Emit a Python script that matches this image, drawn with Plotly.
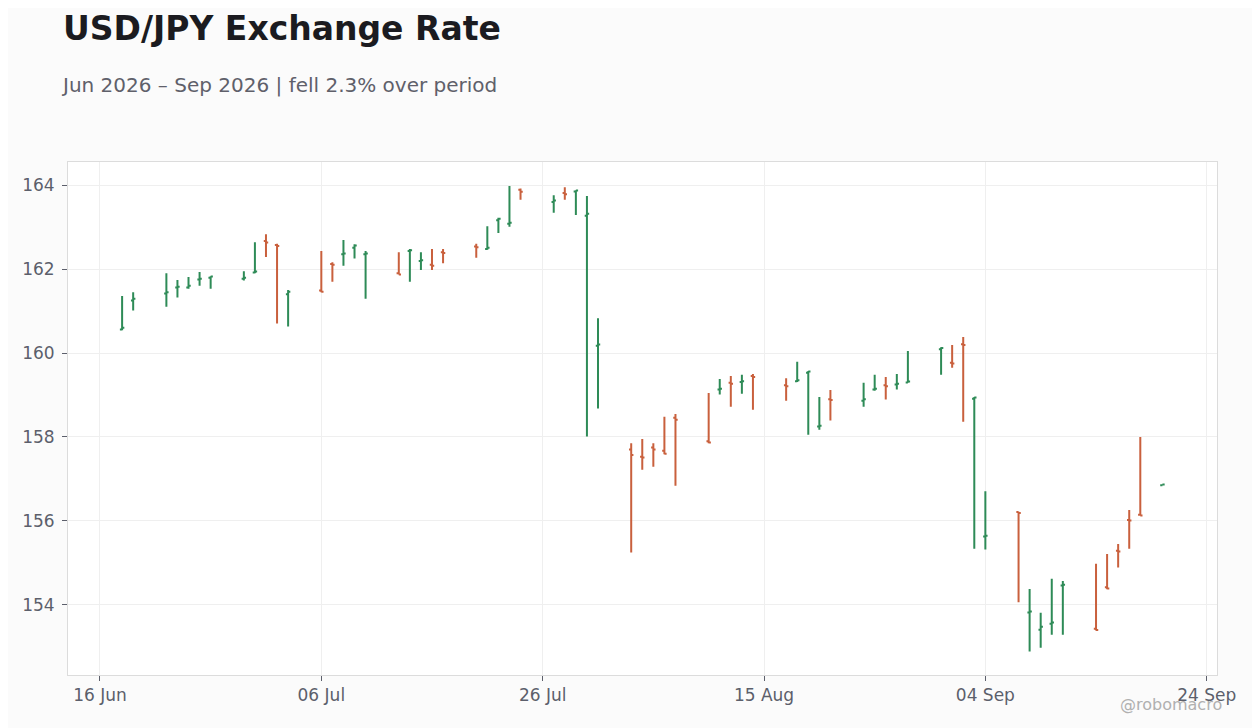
import plotly.graph_objects as go

dates = [
    "2026-06-18", "2026-06-19",
    "2026-06-22", "2026-06-23", "2026-06-24", "2026-06-25", "2026-06-26",
    "2026-06-29", "2026-06-30", "2026-07-01", "2026-07-02", "2026-07-03",
    "2026-07-06", "2026-07-07", "2026-07-08", "2026-07-09", "2026-07-10",
    "2026-07-13", "2026-07-14", "2026-07-15", "2026-07-16", "2026-07-17",
    "2026-07-20", "2026-07-21", "2026-07-22", "2026-07-23", "2026-07-24",
    "2026-07-27", "2026-07-28", "2026-07-29", "2026-07-30", "2026-07-31",
    "2026-08-03", "2026-08-04", "2026-08-05", "2026-08-06", "2026-08-07",
    "2026-08-10", "2026-08-11", "2026-08-12", "2026-08-13", "2026-08-14",
    "2026-08-17", "2026-08-18", "2026-08-19", "2026-08-20", "2026-08-21",
    "2026-08-24", "2026-08-25", "2026-08-26", "2026-08-27", "2026-08-28",
    "2026-08-31", "2026-09-01", "2026-09-02", "2026-09-03", "2026-09-04",
    "2026-09-07", "2026-09-08", "2026-09-09", "2026-09-10", "2026-09-11",
    "2026-09-14", "2026-09-15", "2026-09-16", "2026-09-17", "2026-09-18",
    "2026-09-20",
]

open_ = [
    160.56, 161.25,
    161.42, 161.56, 161.56, 161.75, 161.79,
    161.77, 161.92, 162.67, 162.57, 161.40,
    161.49, 162.12, 162.35, 162.51, 162.35,
    161.90, 162.43, 162.19, 162.10, 162.40,
    162.54, 162.48, 163.16, 163.08, 163.89,
    163.60, 163.81, 163.85, 163.27, 160.17,
    157.70, 157.53, 157.75, 157.67, 158.46,
    157.90, 159.13, 159.29, 159.31, 159.45,
    159.23, 159.33, 159.53, 158.25, 158.90,
    158.86, 159.13, 159.23, 159.25, 159.30,
    160.09, 159.77, 160.21, 158.91, 155.63,
    156.21, 153.82, 153.41, 153.55, 154.46,
    153.43, 154.42, 155.29, 156.02, 156.15,
    156.85,
]

high = [
    161.36, 161.45,
    161.90, 161.74, 161.81, 161.93, 161.83,
    161.95, 162.64, 162.83, 162.60, 161.50,
    162.43, 162.16, 162.69, 162.59, 162.43,
    162.40, 162.48, 162.40, 162.48, 162.48,
    162.60, 163.02, 163.22, 163.98, 163.92,
    163.76, 163.95, 163.88, 163.74, 160.83,
    157.85, 157.95, 157.85, 158.48, 158.55,
    159.05, 159.38, 159.45, 159.48, 159.50,
    159.40, 159.79, 159.57, 158.95, 159.12,
    159.29, 159.48, 159.43, 159.50, 160.05,
    160.14, 160.19, 160.38, 158.95, 156.71,
    156.22, 154.38, 153.81, 154.62, 154.57,
    154.98, 155.21, 155.45, 156.26, 158.00,
    156.87,
]

low = [
    160.54, 161.01,
    161.10, 161.32, 161.53, 161.60, 161.53,
    161.73, 161.90, 162.29, 160.70, 160.63,
    161.45, 161.70, 162.08, 162.25, 161.29,
    161.87, 161.70, 161.98, 161.98, 162.14,
    162.27, 162.46, 162.86, 163.01, 163.65,
    163.34, 163.65, 163.29, 158.01, 158.68,
    155.25, 157.22, 157.29, 157.59, 156.84,
    157.85, 159.01, 158.72, 159.03, 158.65,
    158.86, 159.31, 158.05, 158.17, 158.39,
    158.72, 159.10, 158.89, 159.13, 159.29,
    159.48, 159.65, 158.36, 155.34, 155.32,
    154.06, 152.89, 152.98, 153.29, 153.29,
    153.39, 154.37, 154.89, 155.34, 156.13,
    156.85,
]

close = [
    160.60, 161.29,
    161.45, 161.58, 161.60, 161.77, 161.82,
    161.79, 161.94, 162.63, 162.55, 161.46,
    161.46, 162.10, 162.37, 162.56, 162.37,
    161.87, 162.45, 162.21, 162.08, 162.38,
    162.52, 162.51, 163.20, 163.10, 163.84,
    163.63, 163.78, 163.87, 163.32, 160.20,
    157.57, 157.51, 157.70, 157.60, 158.41,
    157.87, 159.15, 159.27, 159.33, 159.43,
    159.21, 159.35, 159.56, 158.27, 158.88,
    158.90, 159.15, 159.21, 159.27, 159.32,
    160.12, 159.75, 160.19, 158.94, 155.65,
    156.19, 153.84, 153.48, 153.58, 154.48,
    153.40, 154.39, 155.27, 156.01, 156.13,
    156.87,
]

x_tick_vals = ["2026-06-16", "2026-07-06", "2026-07-26", "2026-08-15", "2026-09-04", "2026-09-24"]
x_tick_text = ["16 Jun", "06 Jul", "26 Jul", "15 Aug", "04 Sep", "24 Sep"]
y_tick_vals = [154, 156, 158, 160, 162, 164]

title_text = "USD/JPY Exchange Rate"
subtitle_text = "Jun 2026 – Sep 2026 | fell 2.3% over period"
credit_text = "@robomacro"

UP = "#2e8b57"
DOWN = "#c9603d"
FONT = "DejaVu Sans"

W, H = 1252, 720
ML, MR, MT, MB = 60, 43, 154, 53
PW = W - ML - MR
PH = H - MT - MB

fig = go.Figure(
    go.Ohlc(
        x=dates, open=open_, high=high, low=low, close=close,
        increasing=dict(line=dict(color=UP, width=2)),
        decreasing=dict(line=dict(color=DOWN, width=2)),
        tickwidth=0.2,
        showlegend=False,
    )
)

fig.update_layout(
    width=W, height=H,
    margin=dict(l=ML, r=MR, t=MT, b=MB),
    paper_bgcolor="#fbfbfb",
    plot_bgcolor="#ffffff",
    font=dict(family=FONT, color="#5c5f6b", size=16),
    title=dict(
        text=title_text,
        font=dict(family=FONT, size=33, color="#1b1b20", weight="bold"),
        xref="container", yref="container",
        x=55 / W, xanchor="left",
        y=1 - 20 / H, yanchor="middle",
    ),
    annotations=[
        dict(
            text=subtitle_text, xref="paper", yref="paper",
            x=(51 - ML) / PW, y=(PH - (77 - MT)) / PH,
            xanchor="left", yanchor="middle", showarrow=False,
            font=dict(family=FONT, size=20, color="#5f606a"),
        ),
        dict(
            text=credit_text, xref="paper", yref="paper",
            x=(1216 - ML) / PW, y=-(697 - (MT + PH)) / PH,
            xanchor="right", yanchor="middle", showarrow=False,
            font=dict(family=FONT, size=16, color="#b0b0b0"),
        ),
    ],
    xaxis=dict(
        type="date",
        range=["2026-06-13 02:40", "2026-09-24 22:20"],
        rangeslider=dict(visible=False),
        tickvals=x_tick_vals, ticktext=x_tick_text,
        showgrid=True, gridcolor="#efefef", gridwidth=1,
        showline=True, linecolor="#dcdcdc", linewidth=1, mirror=True,
        ticks="outside", ticklen=5, tickcolor="#5c5f6b",
        tickfont=dict(size=17, color="#5c5f6b"),
        zeroline=False,
    ),
    yaxis=dict(
        range=[152.33, 164.55],
        tickvals=y_tick_vals,
        showgrid=True, gridcolor="#efefef", gridwidth=1,
        showline=True, linecolor="#dcdcdc", linewidth=1, mirror=True,
        ticks="outside", ticklen=5, tickcolor="#5c5f6b",
        tickfont=dict(size=17, color="#5c5f6b"),
        ticklabelstandoff=4,
        zeroline=False,
    ),
)

fig.write_html("out.html")
